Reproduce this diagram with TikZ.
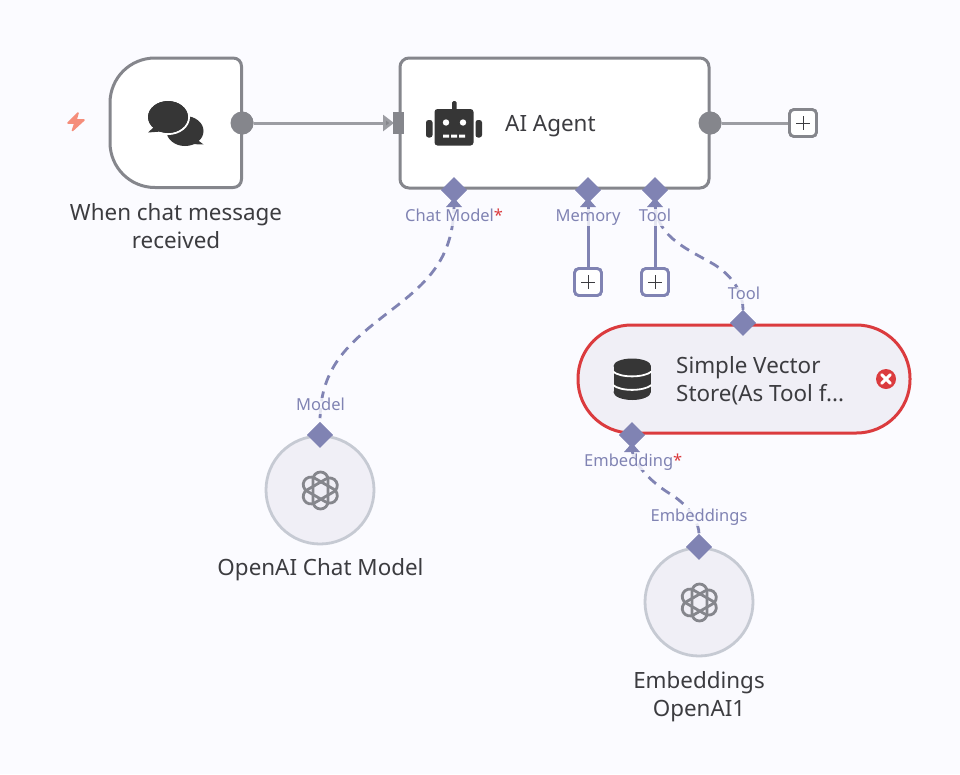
\documentclass[tikz,border=0pt]{standalone}
\usepackage{fontspec}
\setmainfont{Noto Sans}
\usetikzlibrary{shapes.geometric,arrows.meta}
\definecolor{bgc}{HTML}{FBFBFF}
\definecolor{edgeg}{HTML}{85868C}
\definecolor{lineg}{HTML}{9C9DA3}
\definecolor{port}{HTML}{8083B3}
\definecolor{txt}{HTML}{3C3C40}
\definecolor{ico}{HTML}{363636}
\definecolor{redc}{HTML}{DB3B3E}
\definecolor{soft}{HTML}{F0EFF6}
\definecolor{ringc}{HTML}{C6CAD3}
\definecolor{salmon}{HTML}{F58D7A}
\tikzset{
  x=1pt,y=-1pt,
  ttl/.style={text=txt,font=\fontsize{22.4}{28}\selectfont,align=center,inner sep=0pt},
  plabel/.style={text=port,font=\fontsize{16.5}{18}\selectfont,inner xsep=1pt,inner ysep=0pt,text height=12.5pt,text depth=4pt,fill=bgc,fill opacity=.82,text opacity=1},
  dport/.style={diamond,fill=port,draw=none,minimum size=26pt,inner sep=0pt},
  dot/.style={circle,fill=edgeg,draw=none,minimum size=23pt,inner sep=0pt},
  plusbox/.style={draw=#1,line width=2.8pt,fill=white,rounded corners=4.5pt,minimum size=27pt,inner sep=0pt},
  plusmark/.style={draw=txt,line width=1pt},
  dashc/.style={draw=port,line width=2.8pt,dash pattern=on 10pt off 7pt},
  solidc/.style={draw=port,line width=3pt},
  tick/.style={fill=port,draw=none},
  ring/.style={circle,draw=ringc,line width=2.8pt,fill=soft,minimum size=108pt,inner sep=0pt},
}
\newcommand{\plusat}[2]{\draw[plusmark] (#1-7,#2) -- (#1+7,#2) (#1,#2-7) -- (#1,#2+7);}
\newcommand{\gptlogo}[2]{%
  \begin{scope}[shift={(#1,#2)}]
    \foreach \a in {30,90,150} {
      \draw[draw=edgeg,line width=2.8pt,rounded corners=7.5pt,rotate=\a] (-18.5,-7) rectangle (18.5,8);
    }
  \end{scope}}
\begin{document}
\begin{tikzpicture}
\useasboundingbox (0,0) rectangle (960,774);
\fill[bgc] (0,0) rectangle (960,774);

% connectors
\node[dot] (tout) at (242,123) {};
\node[dot] (aout) at (710,123) {};
\node[dport] (pchat) at (454,190) {};
\node[dport] (pmem) at (588,190) {};
\node[dport] (ptool) at (655,190) {};
\node[dport] (pvt) at (743,323) {};
\node[dport] (pve) at (632,435) {};
\node[dport] (pom) at (320,435) {};
\node[dport] (poe) at (699,547) {};
\node[plusbox=edgeg] (pa) at (803,123) {};
\node[plusbox=port] (pb) at (588,282) {};
\node[plusbox=port] (pc) at (655,282) {};
\coordinate (ain) at (394,123);

\draw[draw=lineg,line width=3pt,-{Triangle[length=11pt,width=16pt,fill=edgeg]}] (tout) -- (ain);
\draw[draw=lineg,line width=3pt] (aout) -- (pa);
\draw[solidc] (pmem) -- (pb);
\draw[solidc] (ptool) -- (pc);
\draw[dashc] (pchat.south) .. controls (454,262) and (424,285) .. (385,315)
   .. controls (345,346) and (320,370) .. (pom.north);
\draw[dashc] (ptool.south) .. controls (656,238) and (690,250) .. (715,265)
   .. controls (738,280) and (743,298) .. (pvt.north);
\draw[dashc] (pve.south) .. controls (632,462) and (650,482) .. (672,495)
   .. controls (692,508) and (699,525) .. (poe.north);
\fill[tick] (454,198) -- (462,207) -- (446,207) -- cycle;
\fill[tick] (588,198) -- (596,207) -- (580,207) -- cycle;
\fill[tick] (655,198) -- (663,207) -- (647,207) -- cycle;
\fill[tick] (632,443) -- (640,452) -- (624,452) -- cycle;

% trigger
\draw[draw=edgeg,line width=3pt,fill=white] (155,58) -- (233,58)
  .. controls (238,58) and (241.5,61.5) .. (241.5,66.5) -- (241.5,179)
  .. controls (241.5,184) and (238,187.5) .. (233,187.5) -- (155,187.5)
  .. controls (130,187.5) and (110,167.5) .. (110,142.5) -- (110,103)
  .. controls (110,78) and (130,58) .. (155,58) -- cycle;
\node[inner sep=0pt] (trigger) at (176,123) {};
% agent
\node[draw=edgeg,line width=3pt,fill=white,rounded corners=9pt,minimum width=309pt,minimum height=130pt,inner sep=0pt] (agent) at (554.5,123) {};
% vector store
\node[draw=redc,line width=3pt,fill=soft,rounded corners=53.5pt,minimum width=332pt,minimum height=108pt,inner sep=0pt] (vector) at (744,379) {};
% circles
\node[ring] (om) at (320,490) {};
\node[ring] (oe) at (699,602) {};

% ports on top
\node[dot] at (tout) {};
\node[dot] at (aout) {};
\node[dport] at (pchat) {};
\node[dport] at (pmem) {};
\node[dport] at (ptool) {};
\node[dport] at (pvt) {};
\node[dport] at (pve) {};
\node[dport] at (pom) {};
\node[dport] at (poe) {};
\fill[edgeg] (393,112) rectangle (404,134);
\node[plusbox=edgeg] at (pa) {};
\node[plusbox=port] at (pb) {};
\node[plusbox=port] at (pc) {};
\plusat{803}{123}
\plusat{588}{282}
\plusat{655}{282}

% lightning
\fill[salmon,draw=salmon,line width=1.6pt,line join=round] (78,113) -- (68,123) -- (75,123) -- (72.5,130.5) -- (84,120) -- (76,120) -- cycle;

% chat icon
\fill[ico] (185,131) ellipse [x radius=18.5pt,y radius=15pt];
\fill[ico] (195,138) -- (203.5,144.5) -- (190,144) -- cycle;
\fill[ico,draw=white,line width=2pt] (168,117) ellipse [x radius=21pt,y radius=17pt];
\fill[ico] (168,117) ellipse [x radius=20pt,y radius=16pt];
\fill[ico] (154,127) -- (148,132.5) -- (161,131.5) -- cycle;

% robot icon
\fill[ico,rounded corners=3pt] (434.5,109) rectangle (473.5,145.5);
\fill[ico,rounded corners=1.5pt] (452,101) rectangle (456.5,112);
\fill[ico,rounded corners=2.5pt] (426,120) rectangle (432.5,137.5);
\fill[ico,rounded corners=2.5pt] (475.5,120) rectangle (482,137.5);
\fill[white] (446,122.5) circle [radius=3.2pt] (463,122.5) circle [radius=3.2pt];
\fill[white] (443,134.5) rectangle (449,137.5) (451,134.5) rectangle (457,137.5) (459,134.5) rectangle (465,137.5);

% database icon
\fill[ico] (613.5,366) rectangle (651,392);
\fill[ico] (632.2,366) ellipse [x radius=18.7pt,y radius=7.5pt];
\fill[ico] (632.2,392) ellipse [x radius=18.7pt,y radius=8pt];
\draw[white,line width=1.8pt] (613,371.5) .. controls (620,378) and (644,378) .. (651.5,371.5);
\draw[white,line width=1.8pt] (613,385) .. controls (620,391.5) and (644,391.5) .. (651.5,385);

% error icon
\fill[redc] (886,379) circle [radius=10pt];
\draw[white,line width=3pt,line cap=round] (881.7,374.7) -- (890.3,383.3) (890.3,374.7) -- (881.7,383.3);

% openai logos
\gptlogo{320}{490.5}
\gptlogo{699}{602.5}

% texts
\node[ttl] (t1) at (176,226.5) {When chat message\\received};
\node[ttl,anchor=west] (t2) at (505,126) {AI Agent};
\node[ttl,anchor=west,align=left] (t3) at (676,381) {Simple Vector\\Store(As Tool f...};
\node[ttl] (t4) at (320.5,570) {OpenAI Chat Model};
\node[ttl] (t5) at (699,697) {Embeddings\\OpenAI1};

\node[plabel,anchor=west] (l1) at (404,217.5) {Chat Model\textcolor{redc}{*}};
\node[plabel] (l2) at (588,217.5) {Memory};
\node[plabel] (l3) at (655,217.5) {Tool};
\node[plabel] (l4) at (744,295.5) {Tool};
\node[plabel] (l5) at (320.5,406) {Model};
\node[plabel,anchor=west] (l6) at (583,462) {Embedding\textcolor{redc}{*}};
\node[plabel] (l7) at (699,517.5) {Embeddings};
\end{tikzpicture}
\end{document}
